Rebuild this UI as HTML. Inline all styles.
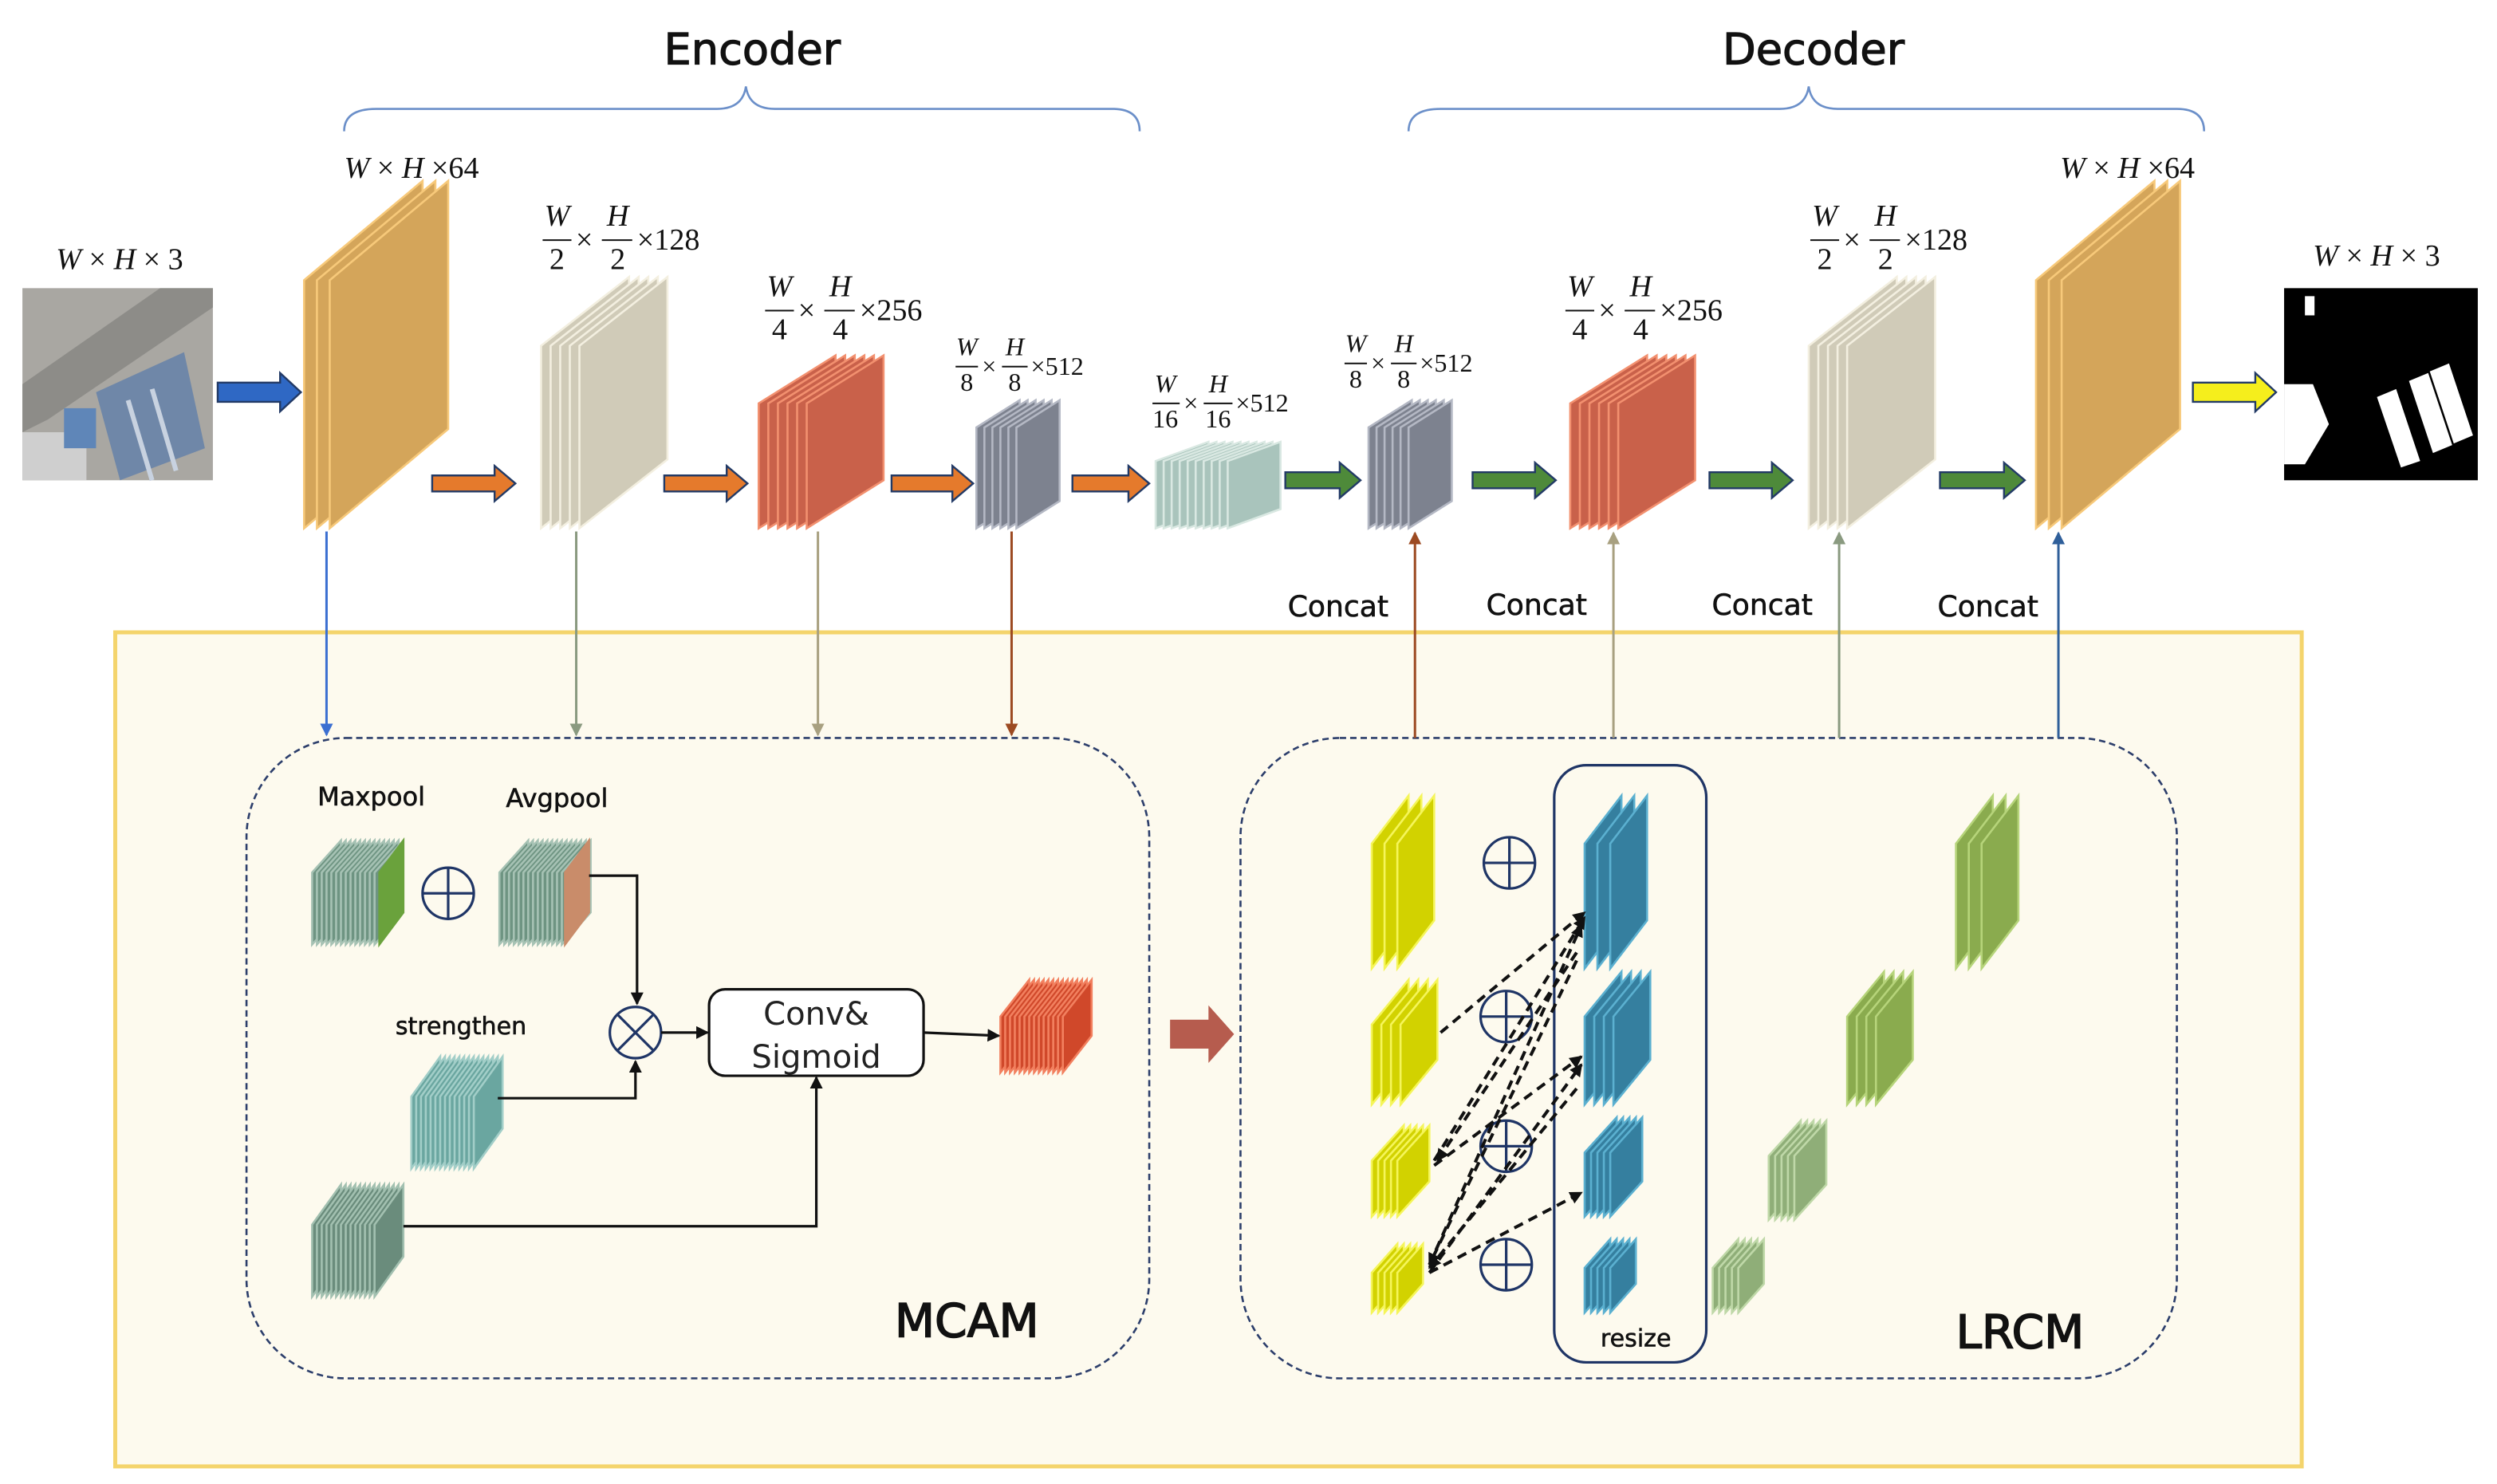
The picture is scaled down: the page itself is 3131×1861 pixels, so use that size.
<!DOCTYPE html>
<html><head><meta charset="utf-8"><style>
html,body{margin:0;padding:0;background:#fff}
svg{display:block}
.sf{font-family:"Liberation Serif",serif}
.it{font-style:italic}
.ss{font-family:"DejaVu Sans","Liberation Sans",sans-serif}
</style></head><body>
<svg id="s" width="3131" height="1861" viewBox="0 0 1560 927" preserveAspectRatio="none" xmlns="http://www.w3.org/2000/svg">
<defs>
<marker id="ak" markerWidth="8" markerHeight="8" refX="7" refY="4" orient="auto" markerUnits="userSpaceOnUse"><path d="M0,0 L8,4 L0,8 z" fill="#111"/></marker>
<marker id="ab" markerWidth="8" markerHeight="8" refX="7" refY="4" orient="auto" markerUnits="userSpaceOnUse"><path d="M0,0 L8,4 L0,8 z" fill="#3b6fd1"/></marker>
<marker id="ag" markerWidth="8" markerHeight="8" refX="7" refY="4" orient="auto" markerUnits="userSpaceOnUse"><path d="M0,0 L8,4 L0,8 z" fill="#8a9a80"/></marker>
<marker id="at" markerWidth="8" markerHeight="8" refX="7" refY="4" orient="auto" markerUnits="userSpaceOnUse"><path d="M0,0 L8,4 L0,8 z" fill="#a8a080"/></marker>
<marker id="ar" markerWidth="8" markerHeight="8" refX="7" refY="4" orient="auto" markerUnits="userSpaceOnUse"><path d="M0,0 L8,4 L0,8 z" fill="#9c4a22"/></marker>
<marker id="an" markerWidth="8" markerHeight="8" refX="7" refY="4" orient="auto" markerUnits="userSpaceOnUse"><path d="M0,0 L8,4 L0,8 z" fill="#2f5f9a"/></marker>
</defs>
<rect width="1560" height="927" fill="#fff"/>
<rect x="72" y="395" width="1366" height="521" fill="#fdfaee" stroke="#f4d46c" stroke-width="2.5"/>
<rect x="154" y="461" width="564" height="400" rx="62" fill="none" stroke="#2c3e6b" stroke-width="1.3" stroke-dasharray="4,2.5"/>
<rect x="775" y="461" width="585" height="400" rx="62" fill="none" stroke="#2c3e6b" stroke-width="1.3" stroke-dasharray="4,2.5"/>

<text x="470" y="40" text-anchor="middle" class="ss" font-size="27" fill="#111" stroke="#111" stroke-width="0.6">Encoder</text>
<text x="1133" y="40" text-anchor="middle" class="ss" font-size="27" fill="#111" stroke="#111" stroke-width="0.6">Decoder</text>
<path d="M215,82 Q215,68 235,68 L448,68 Q464,68 466,54 Q468,68 484,68 L695,68 Q712,68 712,82" fill="none" stroke="#6b8fc9" stroke-width="1.3"/>
<path d="M880,82 Q880,68 900,68 L1112,68 Q1128,68 1130,54 Q1132,68 1148,68 L1360,68 Q1377,68 1377,82" fill="none" stroke="#6b8fc9" stroke-width="1.3"/>

<g id="stacks"></g>

<rect x="14" y="180" width="119" height="120" fill="#a9a7a2"/>
<polygon points="14,240 100,180 133,180 133,192 30,262 14,270" fill="#8d8c88"/>
<polygon points="60,245 115,220 128,280 75,300" fill="#6f87a8"/>
<line x1="80" y1="250" x2="95" y2="300" stroke="#c8d2e0" stroke-width="3"/>
<line x1="95" y1="243" x2="110" y2="294" stroke="#c8d2e0" stroke-width="3"/>
<rect x="14" y="270" width="40" height="30" fill="#cfcfcf"/>
<rect x="40" y="255" width="20" height="25" fill="#5f86b8"/>
<rect x="1427" y="180" width="121" height="120" fill="#000"/>
<polygon points="1485,248 1497,243 1512,288 1500,292" fill="#fff"/>
<polygon points="1505,238 1517,233 1532,278 1520,283" fill="#fff"/>
<polygon points="1518,232 1530,227 1545,272 1533,277" fill="#fff"/>
<polygon points="1427,240 1445,240 1455,265 1440,290 1427,290" fill="#fff"/>
<rect x="1440" y="185" width="6" height="12" fill="#fff"/>

<g stroke="#223a66" stroke-width="1.2">
<polygon points="136,239 175,239 175,233 188,245 175,257 175,251 136,251" fill="#2f68c4"/>
<polygon points="270,297 309,297 309,291 322,302 309,313 309,307 270,307" fill="#e57a2c"/>
<polygon points="415,297 454,297 454,291 467,302 454,313 454,307 415,307" fill="#e57a2c"/>
<polygon points="557,297 595,297 595,291 608,302 595,313 595,307 557,307" fill="#e57a2c"/>
<polygon points="670,297 705,297 705,291 718,302 705,313 705,307 670,307" fill="#e57a2c"/>
<polygon points="803,295 837,295 837,289 850,300 837,311 837,305 803,305" fill="#4e8a3a"/>
<polygon points="920,295 959,295 959,289 972,300 959,311 959,305 920,305" fill="#4e8a3a"/>
<polygon points="1068,295 1107,295 1107,289 1120,300 1107,311 1107,305 1068,305" fill="#4e8a3a"/>
<polygon points="1212,295 1252,295 1252,289 1265,300 1252,311 1252,305 1212,305" fill="#4e8a3a"/>
<polygon points="1370,239 1409,239 1409,233 1422,245 1409,257 1409,251 1370,251" fill="#f5ee1c"/>
<polygon points="731,637 755,637 755,628 771,646 755,664 755,655 731,655" fill="#b65c4e" stroke="none"/>
</g>

<line x1="204" y1="332" x2="204" y2="459" stroke="#3b6fd1" stroke-width="1.5" marker-end="url(#ab)"/>
<line x1="360" y1="332" x2="360" y2="459" stroke="#8a9a80" stroke-width="1.5" marker-end="url(#ag)"/>
<line x1="511" y1="332" x2="511" y2="459" stroke="#a8a080" stroke-width="1.5" marker-end="url(#at)"/>
<line x1="632" y1="332" x2="632" y2="459" stroke="#9c4a22" stroke-width="1.5" marker-end="url(#ar)"/>
<line x1="884" y1="461" x2="884" y2="333" stroke="#9c4a22" stroke-width="1.5" marker-end="url(#ar)"/>
<line x1="1008" y1="461" x2="1008" y2="333" stroke="#a8a080" stroke-width="1.5" marker-end="url(#at)"/>
<line x1="1149" y1="461" x2="1149" y2="333" stroke="#8a9a80" stroke-width="1.5" marker-end="url(#ag)"/>
<line x1="1286" y1="461" x2="1286" y2="333" stroke="#2f5f9a" stroke-width="1.5" marker-end="url(#an)"/>
<g class="ss" font-size="18" fill="#111" text-anchor="middle" stroke="#111" stroke-width="0.3">
<text x="836" y="385">Concat</text><text x="960" y="384">Concat</text><text x="1101" y="384">Concat</text><text x="1242" y="385">Concat</text>
</g>

<g class="sf" fill="#111">
<text x="35" y="168" font-size="19"><tspan class="it">W</tspan> × <tspan class="it">H</tspan> × 3</text>
<text x="1445" y="166" font-size="19"><tspan class="it">W</tspan> × <tspan class="it">H</tspan> × 3</text>
<text x="215" y="111" font-size="19"><tspan class="it">W</tspan> × <tspan class="it">H</tspan> ×64</text>
<text x="1287" y="111" font-size="19"><tspan class="it">W</tspan> × <tspan class="it">H</tspan> ×64</text>
</g>
<g class="sf" fill="#111" font-size="19">
<g transform="translate(338,150)"><text x="10" y="-9" text-anchor="middle" class="it">W</text><line x1="1" x2="19" y1="0" y2="0" stroke="#111"/><text x="10" y="18" text-anchor="middle">2</text><text x="27" y="6" text-anchor="middle">×</text><text x="48" y="-9" text-anchor="middle" class="it">H</text><line x1="38" x2="57" y1="0" y2="0" stroke="#111"/><text x="48" y="18" text-anchor="middle">2</text><text x="60" y="6">×128</text></g>
<g transform="translate(1130,150)"><text x="10" y="-9" text-anchor="middle" class="it">W</text><line x1="1" x2="19" y1="0" y2="0" stroke="#111"/><text x="10" y="18" text-anchor="middle">2</text><text x="27" y="6" text-anchor="middle">×</text><text x="48" y="-9" text-anchor="middle" class="it">H</text><line x1="38" x2="57" y1="0" y2="0" stroke="#111"/><text x="48" y="18" text-anchor="middle">2</text><text x="60" y="6">×128</text></g>
<g transform="translate(477,194)"><text x="10" y="-9" text-anchor="middle" class="it">W</text><line x1="1" x2="19" y1="0" y2="0" stroke="#111"/><text x="10" y="18" text-anchor="middle">4</text><text x="27" y="6" text-anchor="middle">×</text><text x="48" y="-9" text-anchor="middle" class="it">H</text><line x1="38" x2="57" y1="0" y2="0" stroke="#111"/><text x="48" y="18" text-anchor="middle">4</text><text x="60" y="6">×256</text></g>
<g transform="translate(977,194)"><text x="10" y="-9" text-anchor="middle" class="it">W</text><line x1="1" x2="19" y1="0" y2="0" stroke="#111"/><text x="10" y="18" text-anchor="middle">4</text><text x="27" y="6" text-anchor="middle">×</text><text x="48" y="-9" text-anchor="middle" class="it">H</text><line x1="38" x2="57" y1="0" y2="0" stroke="#111"/><text x="48" y="18" text-anchor="middle">4</text><text x="60" y="6">×256</text></g>
</g>
<g class="sf" fill="#111" font-size="16">
<g transform="translate(596,229)"><text x="8" y="-7" text-anchor="middle" class="it">W</text><line x1="1" x2="15" y1="0" y2="0" stroke="#111"/><text x="8" y="15" text-anchor="middle">8</text><text x="22" y="5" text-anchor="middle">×</text><text x="38" y="-7" text-anchor="middle" class="it">H</text><line x1="30" x2="46" y1="0" y2="0" stroke="#111"/><text x="38" y="15" text-anchor="middle">8</text><text x="48" y="5">×512</text></g>
<g transform="translate(839,227)"><text x="8" y="-7" text-anchor="middle" class="it">W</text><line x1="1" x2="15" y1="0" y2="0" stroke="#111"/><text x="8" y="15" text-anchor="middle">8</text><text x="22" y="5" text-anchor="middle">×</text><text x="38" y="-7" text-anchor="middle" class="it">H</text><line x1="30" x2="46" y1="0" y2="0" stroke="#111"/><text x="38" y="15" text-anchor="middle">8</text><text x="48" y="5">×512</text></g>
<g transform="translate(719,252)"><text x="9" y="-7" text-anchor="middle" class="it">W</text><line x1="1" x2="18" y1="0" y2="0" stroke="#111"/><text x="9" y="15" text-anchor="middle">16</text><text x="25" y="5" text-anchor="middle">×</text><text x="42" y="-7" text-anchor="middle" class="it">H</text><line x1="33" x2="51" y1="0" y2="0" stroke="#111"/><text x="42" y="15" text-anchor="middle">16</text><text x="53" y="5">×512</text></g>
</g>

<g class="ss" fill="#111">
<text x="232" y="503" font-size="16" text-anchor="middle" stroke="#111" stroke-width="0.3">Maxpool</text>
<text x="348" y="504" font-size="16" text-anchor="middle" stroke="#111" stroke-width="0.3">Avgpool</text>
<text x="288" y="646" font-size="15" text-anchor="middle" stroke="#111" stroke-width="0.3">strengthen</text>
<text x="604" y="835" font-size="29" text-anchor="middle" stroke="#111" stroke-width="0.8">MCAM</text>
<text x="1262" y="842" font-size="29" text-anchor="middle" stroke="#111" stroke-width="0.8">LRCM</text>
<text x="1022" y="841" font-size="15" text-anchor="middle" stroke="#111" stroke-width="0.3">resize</text>
</g>
<g fill="none" stroke="#1f3566" stroke-width="1.6">
<circle cx="280" cy="558" r="16"/><path d="M264,558 H296 M280,542 V574"/>
<circle cx="397" cy="645" r="16"/><path d="M386,634 L408,656 M408,634 L386,656"/>
<circle cx="943" cy="539" r="16"/><path d="M927,539 H959 M943,523 V555"/>
<circle cx="941" cy="635" r="16"/><path d="M925,635 H957 M941,619 V651"/>
<circle cx="941" cy="716" r="16"/><path d="M925,716 H957 M941,700 V732"/>
<circle cx="941" cy="790" r="16"/><path d="M925,790 H957 M941,774 V806"/>
</g>
<g stroke="#111" stroke-width="1.6" fill="none">
<path d="M368,547 H398 V627" marker-end="url(#ak)"/>
<path d="M311,686 H397 V663" marker-end="url(#ak)"/>
<path d="M413,645 H442" marker-end="url(#ak)"/>
<path d="M577,645 L624,647" marker-end="url(#ak)"/>
<path d="M252,766 H510 V673" marker-end="url(#ak)"/>
</g>
<rect x="443" y="618" width="134" height="54" rx="10" fill="#fff" stroke="#111" stroke-width="1.6"/>
<text x="510" y="640" class="ss" font-size="20" text-anchor="middle" fill="#222">Conv&amp;</text>
<text x="510" y="667" class="ss" font-size="20" text-anchor="middle" fill="#222">Sigmoid</text>

<rect x="971" y="478" width="95" height="373" rx="20" fill="none" stroke="#1f3566" stroke-width="1.6"/>
<g stroke="#111" stroke-width="2" stroke-dasharray="6,4" fill="none">
<path d="M900,645 L990,570" marker-end="url(#ak)"/>
<path d="M896,725 L990,573" marker-end="url(#ak)"/>
<path d="M893,790 L988,578" marker-end="url(#ak)"/>
<path d="M896,728 L988,660" marker-end="url(#ak)"/>
<path d="M893,795 L988,665" marker-end="url(#ak)"/>
<path d="M893,795 L988,745" marker-end="url(#ak)"/>
<path d="M985,595 L898,725" marker-end="url(#ak)"/>
<path d="M985,600 L893,790" marker-end="url(#ak)"/>
<path d="M985,680 L893,792" marker-end="url(#ak)"/>
</g>
</svg>
<script>
(function(){
var g=document.getElementById('stacks'),NS='http://www.w3.org/2000/svg';
function st(x0,yb,H,w,s,n,dx,fill,str){
 for(var i=0;i<n;i++){var x=x0+i*dx;var p=document.createElementNS(NS,'polygon');
 p.setAttribute('points',x+','+yb+' '+x+','+(yb-H)+' '+(x+w)+','+(yb-H-s)+' '+(x+w)+','+(yb-s));
 p.setAttribute('fill',fill);p.setAttribute('stroke',str);p.setAttribute('stroke-width','1.3');g.appendChild(p);}
}
st(190,330,155,74,62,3,8,'#d4a55a','#f7c97a');
st(338,330,114,55,43,5,6,'#d0cbb8','#f3efe0');
st(474,330,78,48,30,6,6,'#c9614a','#f2906f');
st(610,330,63,27,17,6,5,'#7d828f','#b4b8c4');
st(722,330,42,33,12,10,5,'#a9c4bc','#d9e8e2');
st(855,330,63,27,17,6,5,'#7d828f','#b4b8c4');
st(981,330,78,48,30,6,6,'#c9614a','#f2906f');
st(1130,330,114,55,43,5,6,'#d0cbb8','#f3efe0');
st(1272,330,155,74,62,3,8,'#d4a55a','#f7c97a');
st(195,590,45,18,20,14,3,'#6e9482','#a6c2b4');st(237,590,45,15,20,1,0,'#6aa23c','#6aa23c');
st(312,590,45,18,20,14,3,'#6e9482','#a6c2b4');st(353,590,45,15,20,1,0,'#c98c6a','#c98c6a');
st(257,730,45,18,25,14,3,'#6aa6a0','#a2cec8');
st(195,810,45,18,25,14,3,'#6a8c7c','#a2c0b0');
st(625,670,35,18,23,14,3,'#d0482a','#f2805f');
st(857,605,78,23,30,3,8,'#d2d200','#f5f55a');
st(857,690,50,23,28,4,6,'#d2d200','#f5f55a');
st(857,760,35,20,22,5,4,'#d2d200','#f5f55a');
st(857,820,25,16,18,5,4,'#d2d200','#f5f55a');
st(990,605,78,23,30,3,8,'#357f9f','#5bb0d0');
st(990,690,55,23,28,4,6,'#357f9f','#5bb0d0');
st(990,760,40,20,22,5,4,'#357f9f','#5bb0d0');
st(990,820,28,16,18,5,4,'#357f9f','#5bb0d0');
st(1222,605,78,23,30,3,8,'#8aab4e','#b6d47a');
st(1154,690,55,23,28,4,6,'#8aab4e','#b6d47a');
st(1105,762,40,20,22,5,4,'#8fae78','#bfd8a8');
st(1070,820,28,16,18,5,4,'#8fae78','#bfd8a8');
})();
</script>
</body></html>
